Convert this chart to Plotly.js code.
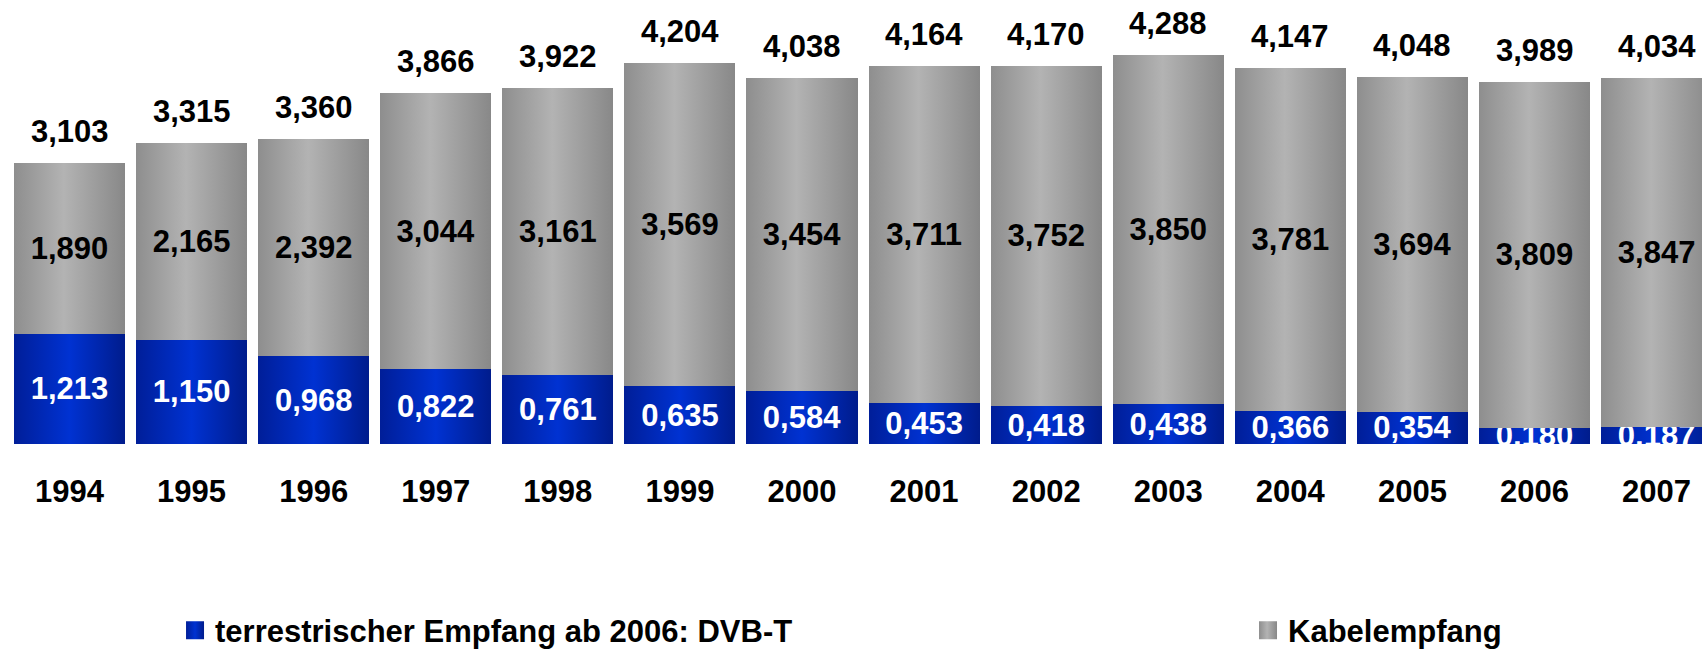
<!DOCTYPE html>
<html>
<head>
<meta charset="utf-8">
<script src="https://cdn.plot.ly/plotly-3.0.1.min.js"></script>
<style>html,body{margin:0;padding:0;background:#fff;overflow:hidden}</style>
</head>
<body>
<div id="chart" style="width:1702px;height:649px"></div>
<script>
// ---- data ----
const years = ['1994','1995','1996','1997','1998','1999','2000','2001','2002','2003','2004','2005','2006','2007'];
const terrestrisch = [1.213, 1.150, 0.968, 0.822, 0.761, 0.635, 0.584, 0.453, 0.418, 0.438, 0.366, 0.354, 0.180, 0.187];
const kabel = [1.890, 2.165, 2.392, 3.044, 3.161, 3.569, 3.454, 3.711, 3.752, 3.850, 3.781, 3.694, 3.809, 3.847];
const gesamt = [3.103, 3.315, 3.360, 3.866, 3.922, 4.204, 4.038, 4.164, 4.170, 4.288, 4.147, 4.048, 3.989, 4.034];
const seriesNames = ['terrestrischer Empfang ab 2006: DVB-T', 'Kabelempfang'];

// ---- styling ----
const FONT = '"Liberation Sans", Arial, Helvetica, sans-serif';
const fontBold = (size, color) => ({family: FONT, size: size, weight: 'bold', color: color});

const traces = [
  {
    type: 'bar', name: seriesNames[0], x: years, y: terrestrisch, legend: 'legend',
    marker: {color: '#0028b4', line: {width: 0}},
    texttemplate: '%{y:.3f}', textposition: 'inside', insidetextanchor: 'middle',
    constraintext: 'none', textangle: 0, cliponaxis: true,
    insidetextfont: fontBold(31, '#ffffff'), hoverinfo: 'skip'
  },
  {
    type: 'bar', name: seriesNames[1], x: years, y: kabel, legend: 'legend2',
    marker: {color: '#a2a2a2', line: {width: 0}},
    texttemplate: '%{y:.3f}', textposition: 'inside', insidetextanchor: 'middle',
    constraintext: 'none', textangle: 0, cliponaxis: true,
    insidetextfont: fontBold(31, '#000000'), hoverinfo: 'skip'
  }
];

// total labels above each stack (x given as category index)
const annotations = years.map((yr, i) => ({
  x: i, y: gesamt[i], xref: 'x', yref: 'y',
  text: gesamt[i].toFixed(3).replace('.', ','),
  showarrow: false, yanchor: 'bottom', xanchor: 'center', yshift: 12,
  font: fontBold(31, '#000000')
}));

const legendBase = {
  orientation: 'h', xanchor: 'left', y: -0.42, yanchor: 'middle',
  font: fontBold(31, '#000000'),
  bgcolor: 'rgba(0,0,0,0)', borderwidth: 0
};

const layout = {
  width: 1702, height: 649, autosize: false,
  margin: {l: 8, r: 0, t: 0, b: 205, pad: 0, autoexpand: false},
  paper_bgcolor: '#ffffff', plot_bgcolor: '#ffffff',
  barmode: 'stack', bargap: 0.09,
  separators: ',.',
  xaxis: {
    type: 'category', range: [-0.5038, 13.372],
    showgrid: false, zeroline: false, showline: false,
    ticks: 'outside', ticklen: 20, tickcolor: 'rgba(0,0,0,0)',
    tickfont: fontBold(31, '#000000'), fixedrange: true
  },
  yaxis: {range: [0, 4.895], visible: false, showgrid: false, zeroline: false, fixedrange: true},
  showlegend: true,
  legend: Object.assign({}, legendBase, {x: 0.0986}),
  legend2: Object.assign({}, legendBase, {x: 0.732}),
  annotations: annotations
};

Plotly.newPlot('chart', traces, layout, {displayModeBar: false, staticPlot: true}).then(gd => {
  const ns = 'http://www.w3.org/2000/svg';
  const svg = gd.querySelector('svg.main-svg');
  const defs = document.createElementNS(ns, 'defs');
  const grads = {
    gBlue: [[0, '#001e98'], [0.5, '#0032d2'], [1, '#001c8c']],
    gGray: [[0, '#8e8e8e'], [0.45, '#b3b3b3'], [1, '#888888']]
  };
  Object.keys(grads).forEach(id => {
    const lg = document.createElementNS(ns, 'linearGradient');
    lg.setAttribute('id', id);
    lg.setAttribute('x1', '0'); lg.setAttribute('x2', '1');
    lg.setAttribute('y1', '0'); lg.setAttribute('y2', '0');
    grads[id].forEach(([o, c]) => {
      const s = document.createElementNS(ns, 'stop');
      s.setAttribute('offset', o); s.setAttribute('stop-color', c);
      lg.appendChild(s);
    });
    defs.appendChild(lg);
  });
  svg.insertBefore(defs, svg.firstChild);
  const gradFor = idx => idx === 0 ? 'url(#gBlue)' : 'url(#gGray)';
  gd.querySelectorAll('.barlayer .trace').forEach((tr, idx) => {
    tr.querySelectorAll('path').forEach(p => { p.style.fill = gradFor(idx); });
  });
  gd.querySelectorAll('.legendpoints').forEach(lp => {
    const d = lp.__data__;
    const idx = d && d[0] && d[0].trace ? d[0].trace.index : 0;
    lp.querySelectorAll('path').forEach(p => {
      p.setAttribute('d', 'M9,9H-9V-9H9Z');
      p.style.fill = gradFor(idx);
    });
  });
});
</script>
</body>
</html>
